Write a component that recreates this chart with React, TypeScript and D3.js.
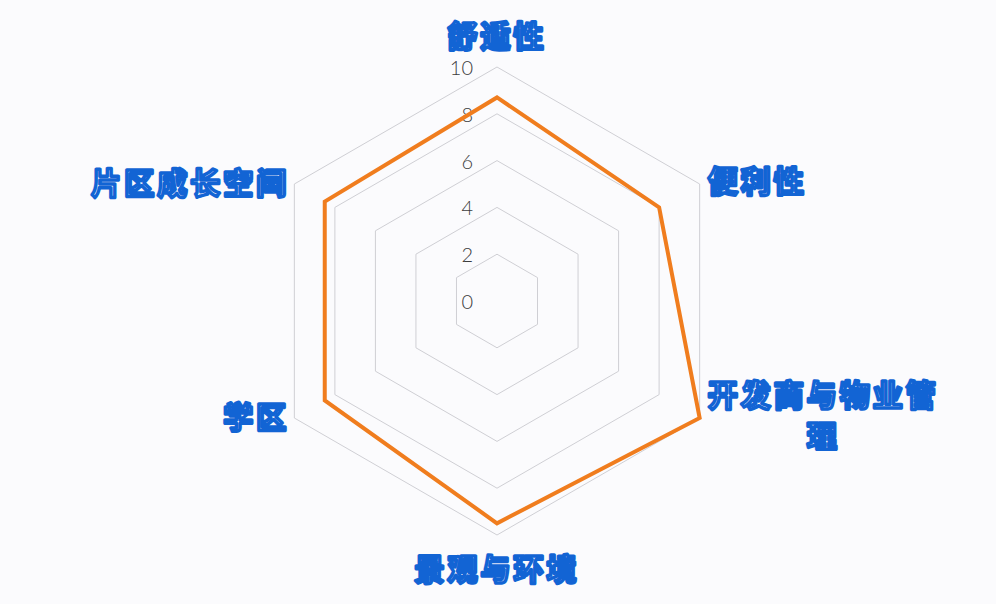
import React from 'react'
import * as d3 from 'd3'

const categories = ['舒适性', '便利性', '开发商与物业管理', '景观与环境', '学区', '片区成长空间']
const scores = [8.7, 8.0, 10, 9.5, 8.5, 8.5]
const ringValues = [2, 4, 6, 8, 10]
const tickLabels = [0, 2, 4, 6, 8, 10]

const W = 996
const H = 604
const cx = 497
const cy = 301
const R = 234

export default function App() {
    const r = d3.scaleLinear().domain([0, 10]).range([0, R])
    const n = categories.length
    const angle = (i: number) => (Math.PI * 2 * i) / n

    const radar = d3.lineRadial<number>()
        .angle((_, i) => angle(i))
        .radius(d => r(d))
        .curve(d3.curveLinearClosed)

    const ringPath = (v: number) => radar(categories.map(() => v)) || ''

    const fontSize = 30
    const spacing = 3
    const labelStyle: React.CSSProperties = {
        fontFamily: '"Noto Sans CJK SC", sans-serif',
        fontWeight: 700,
        fontSize,
        letterSpacing: spacing,
    }

    const labels = categories.map((c, i) => {
        const a = angle(i)
        const vx = cx + Math.sin(a) * R
        const vy = cy - Math.cos(a) * R
        const sx = Math.sin(a)
        const lines = c.length > 6 ? [c.slice(0, 7), c.slice(7)] : [c]
        let x = vx
        let y = vy
        let anchor: 'start' | 'middle' | 'end' = 'middle'
        if (Math.abs(sx) < 0.01) {
            y = vy + (Math.cos(a) > 0 ? -33 : 32)
        } else if (sx > 0) {
            x = vx + 8
            y = vy - 5
            anchor = 'start'
        } else {
            x = vx - 5
            y = vy - 3
            anchor = 'end'
        }
        const lineH = 41
        return lines.map((ln, j) => {
            let lx = x
            let la = anchor
            if (lines.length > 1) {
                // wrapped label: lines centered on the first line's block
                lx = x + (lines[0].length * (fontSize + spacing)) / 2
                la = 'middle'
            }
            const ly = y + (j - (lines.length - 1) / 2) * lineH
            return (
                <text key={`${i}-${j}`} x={lx} y={ly} textAnchor={la} dominantBaseline="central"
                    style={labelStyle} fill="#ffffff" stroke="#1264d4" strokeWidth={3.4} strokeLinejoin="round">
                    {ln}
                </text>
            )
        })
    })

    return (
        <svg width={W} height={H} viewBox={`0 0 ${W} ${H}`}
            style={{ position: 'absolute', left: 0, top: 0, background: '#fbfbfd' }}>
            <g transform={`translate(${cx},${cy})`}>
                {ringValues.map(v => (
                    <path key={v} d={ringPath(v)} fill="none" stroke="#cfcfd4" strokeWidth={1} />
                ))}
                {tickLabels.map(v => (
                    <text key={v} x={-24} y={-r(v)} textAnchor="end" dominantBaseline="central"
                        fill="#3d3d3d" style={{ fontFamily: 'Lato, "Noto Sans", sans-serif', fontWeight: 300, fontSize: 20 }}>
                        {v}
                    </text>
                ))}
                <path d={radar(scores) || ''} fill="none" stroke="#f07d1e" strokeWidth={4} strokeLinejoin="miter" />
            </g>
            {labels}
        </svg>
    )
}
